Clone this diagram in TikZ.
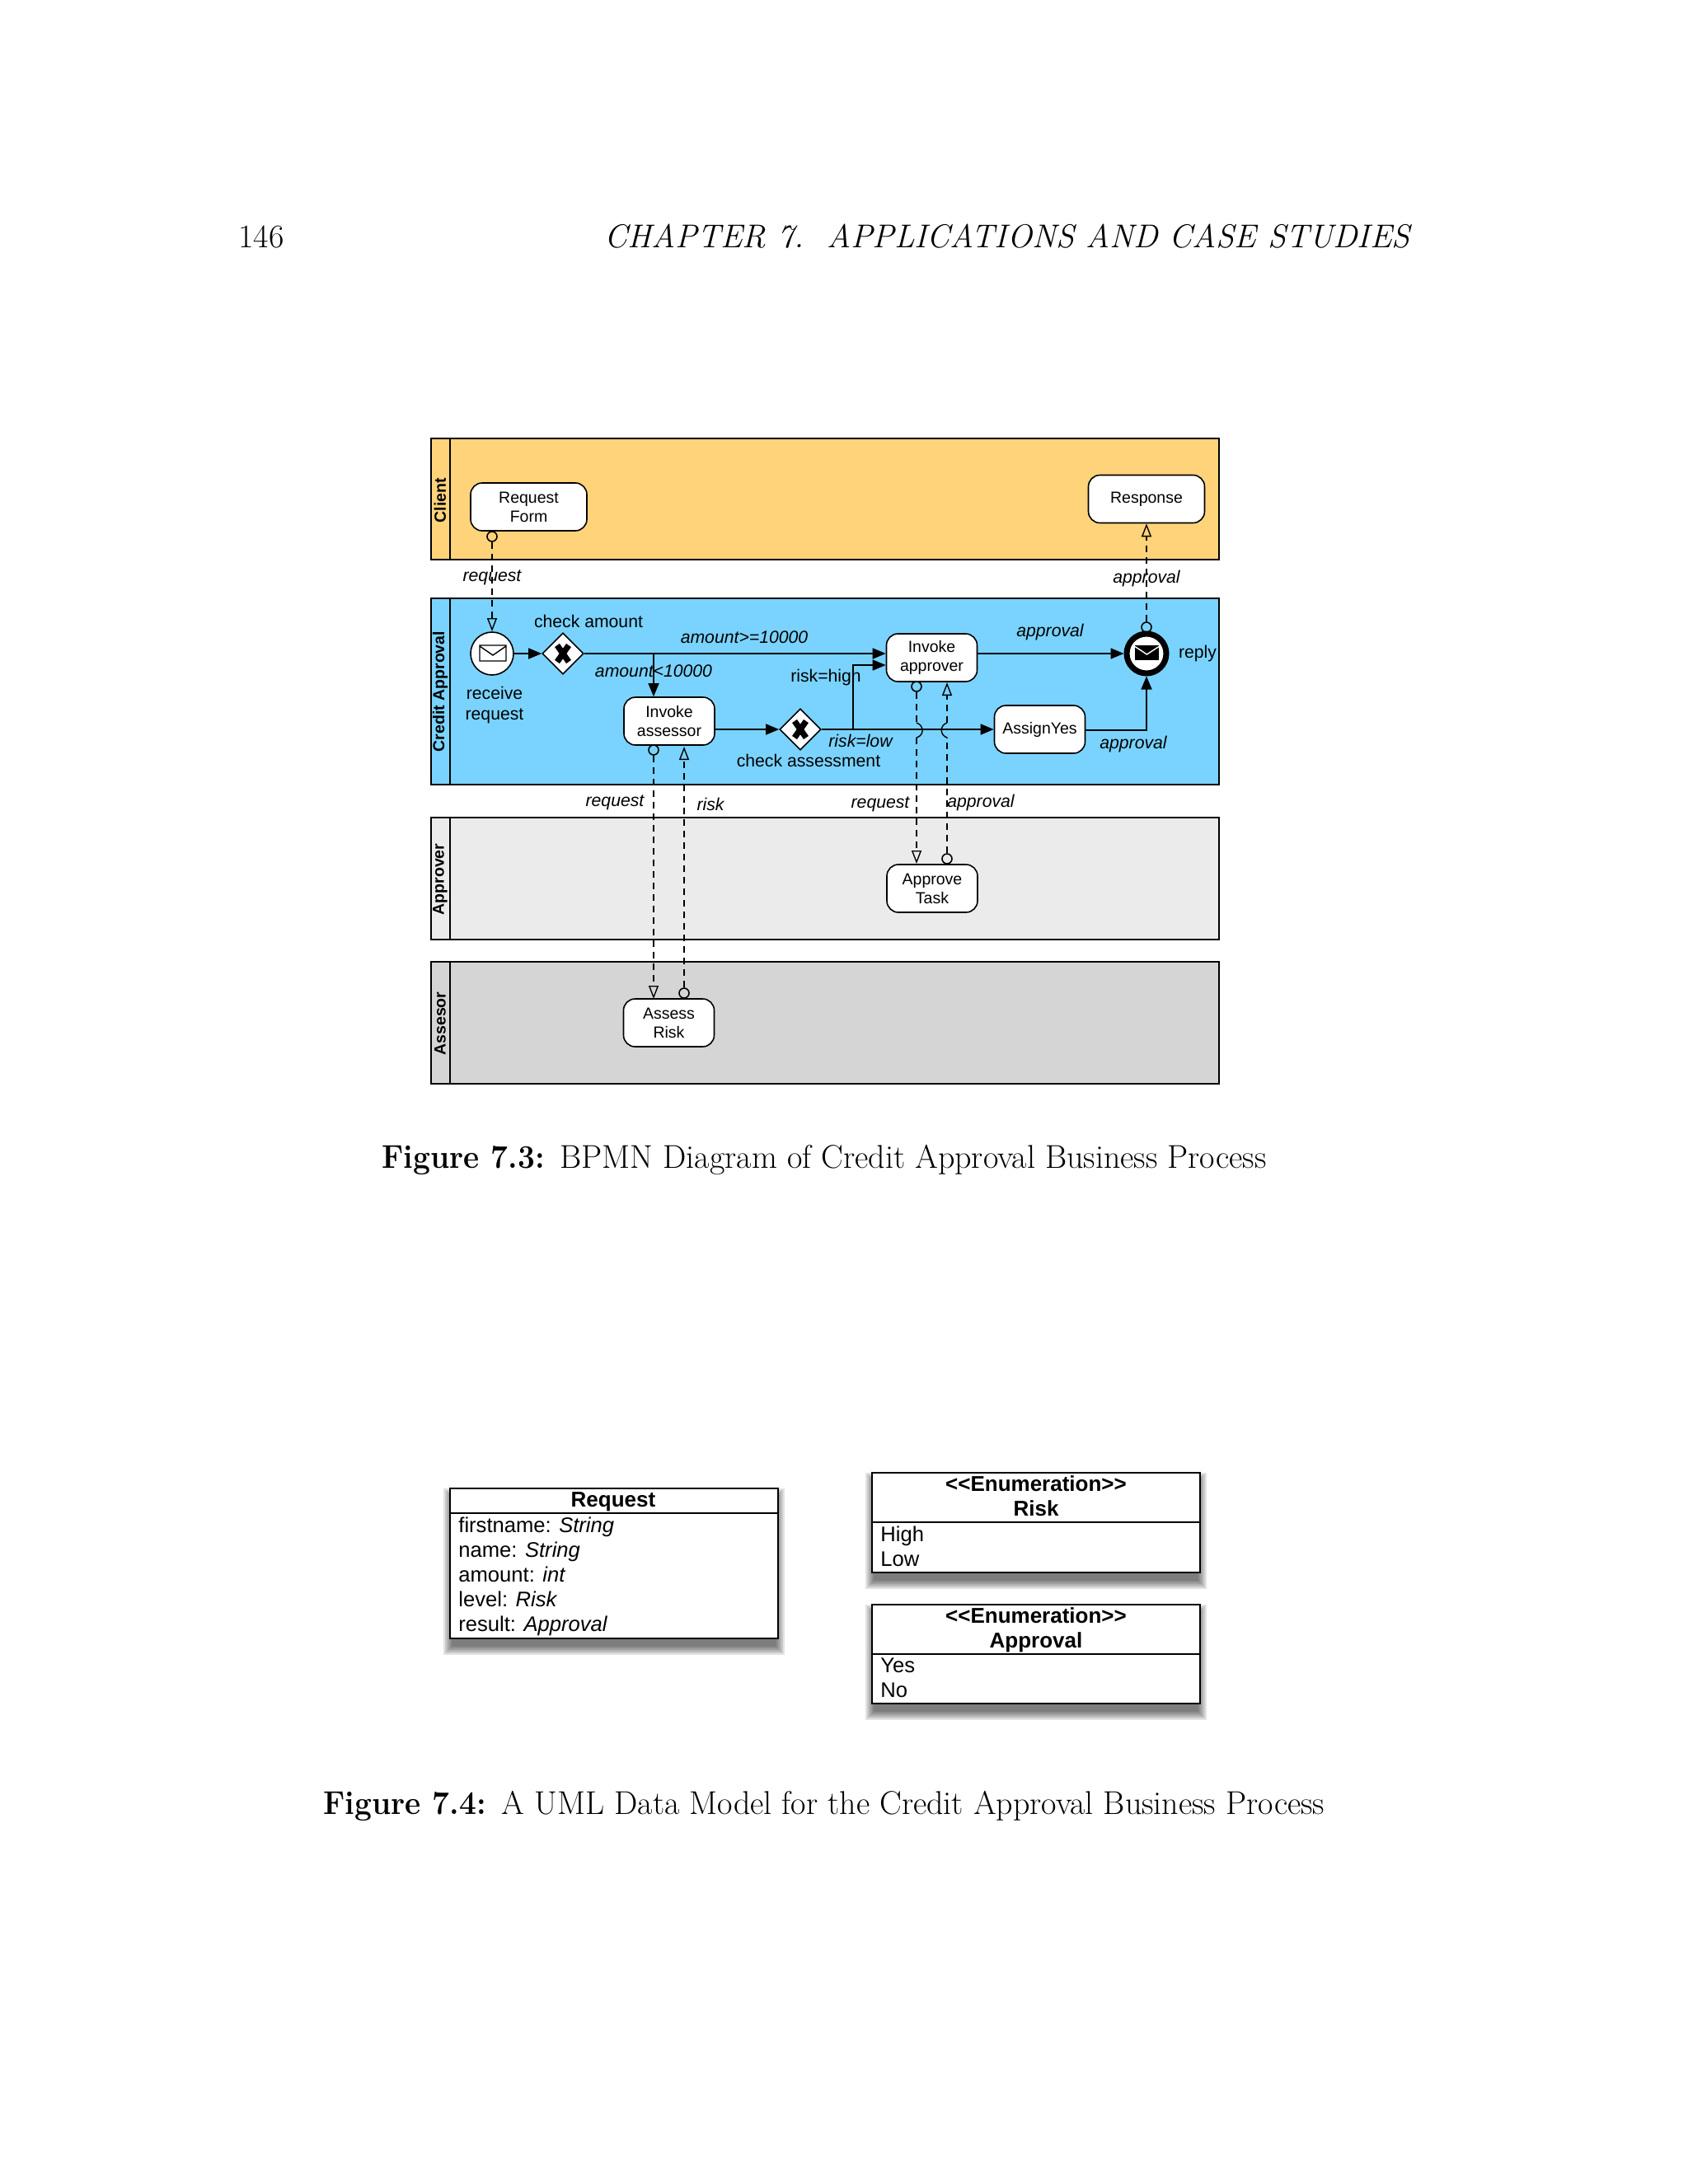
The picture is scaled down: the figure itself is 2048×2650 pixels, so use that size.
\documentclass[tikz,border=0pt]{standalone}
\usepackage{fontspec}
\newfontfamily\arial{Liberation Sans}
\usetikzlibrary{arrows.meta,shapes.geometric}
\definecolor{lanea}{HTML}{FFD37A}
\definecolor{laneb}{HTML}{7AD3FF}
\definecolor{lanec}{HTML}{EBEBEB}
\definecolor{laned}{HTML}{D5D5D5}
\tikzset{
  x=0.5pt,y=-0.5pt,
  lanebox/.style={draw=black,line width=1pt},
  lanetitle/.style={font=\arial\bfseries\fontsize{9.75}{11}\selectfont,rotate=90,inner sep=0pt},
  task/.style={draw=black,fill=white,line width=.8pt,rounded corners=7pt,align=center,inner sep=0pt,
    font=\arial\fontsize{9.75}{11.6}\selectfont,minimum width=55pt,minimum height=29pt},
  gateway/.style={diamond,draw=black,fill=white,line width=.8pt,minimum width=25pt,minimum height=25pt,inner sep=0pt,aspect=1},
  event/.style={circle,draw=black,fill=white,line width=.8pt,minimum size=26pt,inner sep=0pt},
  endevent/.style={circle,draw=black,fill=white,line width=3.5pt,minimum size=24pt,inner sep=0pt},
  msgstart/.style={circle,draw=black,line width=.8pt,minimum size=6pt,inner sep=0pt},
  seq/.style={draw=black,line width=.8pt,-{Triangle[length=8pt,width=6.5pt]}},
  msgplain/.style={draw=black,line width=.7pt,dash pattern=on 4pt off 3pt},
  jumparc/.style={draw=black,line width=.7pt},
  msg/.style={msgplain,-{Triangle[open,length=8pt,width=6pt]}},
  lab/.style={font=\arial\fontsize{10.6}{12.5}\selectfont,inner sep=0pt,align=center},
  ilab/.style={font=\arial\itshape\fontsize{10.6}{12}\selectfont,inner sep=0pt},
  umlbox/.style={draw=black,fill=white,line width=1pt},
  umlline/.style={draw=black,line width=1pt},
  umltitle/.style={font=\arial\bfseries\fontsize{13}{15}\selectfont,inner sep=0pt,anchor=base},
  umlrow/.style={font=\arial\fontsize{12.8}{15}\selectfont,inner sep=0pt,anchor=base west},
  pagetext/.style={font=\fontsize{20}{24}\selectfont,inner sep=0pt},
}
\newcommand{\umlshadow}[4]{%
  \foreach \d in {0,2,...,10}{
    \fill[black,opacity=.11] (#1+2-\d,#2+10-\d) rectangle (#3-2+\d,#4+10+\d);
  }}
\newcommand{\capbold}[1]{\scalebox{.93}[1]{\textbf{#1}}\hspace{9.3pt}}
\begin{document}
\begin{tikzpicture}
\useasboundingbox (0,0) rectangle (2048,2650);
\fill[white] (0,0) rectangle (2048,2650);

% page text
\node[pagetext,anchor=base west] (pagenum) at (289,300) {146};
\node[pagetext,anchor=base] (runhead) at (1222,300) {\itshape CHAPTER 7.\ \ APPLICATIONS AND CASE STUDIES};
\node[pagetext,anchor=base] (cap1) at (1000,1417) {\capbold{Figure 7.3:}BPMN Diagram of Credit Approval Business Process};
\node[pagetext,anchor=base] (cap2) at (1000,2201) {\capbold{Figure 7.4:}A UML Data Model for the Credit Approval Business Process};

% lanes
\filldraw[lanebox,fill=lanea] (523,532) rectangle (1479,679);
\filldraw[lanebox,fill=laneb] (523,726) rectangle (1479,952);
\filldraw[lanebox,fill=lanec] (523,992) rectangle (1479,1140);
\filldraw[lanebox,fill=laned] (523,1167) rectangle (1479,1315);
\draw[lanebox] (546,532) -- (546,679) (546,726) -- (546,952) (546,992) -- (546,1140) (546,1167) -- (546,1315);
\node[lanetitle] (tclient) at (534,607) {Client};
\node[lanetitle] (tcredit) at (534,839) {Credit Approval};
\node[lanetitle] (tapprover) at (534,1067) {Approver};
\node[lanetitle] (tassessor) at (534,1242) {Assesor};

% nodes
\node[task,minimum width=70.5pt] (reqform) at (641.5,615) {Request\\Form};
\node[task,minimum width=70.5pt] (response) at (1391,605.5) {Response};
\node[event] (startev) at (597,793) {};
\node[gateway] (gw1) at (683,793) {};
\node[task] (invassessor) at (812,875) {Invoke\\assessor};
\node[gateway] (gw2) at (971,885) {};
\node[task] (invapprover) at (1130.5,798) {Invoke\\approver};
\node[task] (assignyes) at (1261.5,885) {AssignYes};
\node[endevent] (endev) at (1391,793) {};
\node[task] (approvetask) at (1131,1078) {Approve\\Task};
\node[task] (assessrisk) at (811.5,1241) {Assess\\Risk};

% gateway marks
\foreach \g in {gw1,gw2}{
  \draw[line width=3.6pt,black] ([shift={(-7,-10)}]\g.center) -- ([shift={(7,10)}]\g.center);
  \draw[line width=3.6pt,black] ([shift={(7,-10)}]\g.center) -- ([shift={(-7,10)}]\g.center);
}
% envelopes
\draw[line width=.7pt,black] (582,783) rectangle (614,802) (582,784) -- (598,795) -- (614,784);
\fill[black] (1377,783) rectangle (1406,801);
\draw[line width=.7pt,white] (1377,784.5) -- (1391.5,794) -- (1406,784.5);

% message start circles
\node[msgstart] (ms1) at (597,651) {};
\node[msgstart] (ms2) at (1391,761) {};
\node[msgstart] (ms3) at (793,910) {};
\node[msgstart] (ms4) at (830,1205) {};
\node[msgstart] (ms5) at (1112,833) {};
\node[msgstart] (ms6) at (1149,1042) {};

\coordinate (jumpa) at (1112,877);
\coordinate (jumpb) at (1112,895);
\coordinate (jumpc) at (1149,877);
\coordinate (jumpd) at (1149,895);
\coordinate (branchone) at (793,793);
\coordinate (branchtwo) at (1035,885.5);
\coordinate (endbend) at (1391,886);

% sequence flows
\draw[seq] (startev.east) -- (gw1.west);
\draw[seq] (gw1.east) -- (invapprover.west |- gw1.east);
\draw[seq] (branchone) -- (branchone |- invassessor.north);
\draw[seq] (invassessor.east |- gw2.west) -- (gw2.west);
\draw[seq] (gw2.east) -- (assignyes.west |- gw2.east);
\draw[seq] (branchtwo) -- (1035,807) -- (invapprover.west |- 1035,807);
\draw[seq] (invapprover.east |- endev.west) -- (endev.west);
\draw[seq] (assignyes.east |- endbend) -- (endbend) -- (endev.south);

% message flows
\draw[msg] (ms1.south) -- (597,766);
\draw[msg] (ms2.north) -- (response.south);
\draw[msg] (ms3.south) -- (793,1212);
\draw[msg] (ms4.north) -- (830,906);
\draw[msgplain] (ms5.south) -- (jumpa);
\draw[jumparc] (jumpa) .. controls (1121,880) and (1122,892) .. (jumpb);
\draw[msg] (jumpb) -- (1112,1048);
\draw[msgplain] (ms6.north) -- (jumpd);
\draw[jumparc] (jumpd) .. controls (1140,892) and (1140,880) .. (jumpc);
\draw[msg] (jumpc) -- (1149,828);

% labels
\node[lab] (l1) at (714,754) {check amount};
\node[ilab] (l2) at (903,773) {amount>=10000};
\node[ilab] (l3) at (793,814) {amount<10000};
\node[lab] (l4) at (600,855.5) {receive\\request};
\node[lab] (l5) at (1002,822) {risk=high};
\node[lab] (l6) at (981,923) {check assessment};
\node[ilab] (l7) at (1044,899) {risk=low};
\node[ilab] (l8) at (597,701) {request};
\node[ilab] (l9) at (1391,702) {approval};
\node[ilab] (l10) at (1274,767) {approval};
\node[lab] (l11) at (1453,793) {reply};
\node[ilab] (l12) at (1375,903) {approval};
\node[ilab] (l13) at (746,974) {request};
\node[ilab] (l14) at (862,976) {risk};
\node[ilab] (l15) at (1068,976) {request};
\node[ilab] (l16) at (1190,974) {approval};

% UML
\umlshadow{546}{1806}{944}{1988}
\umlshadow{1058}{1787}{1456}{1908}
\umlshadow{1058}{1947}{1456}{2067}
\draw[umlbox] (546,1806) rectangle (944,1988);
\draw[umlline] (546,1836) -- (944,1836);
\draw[umlbox] (1058,1787) rectangle (1456,1908);
\draw[umlline] (1058,1847) -- (1456,1847);
\draw[umlbox] (1058,1947) rectangle (1456,2067);
\draw[umlline] (1058,2007) -- (1456,2007);
\node[umltitle] (u1) at (744,1828) {Request};
\node[umlrow] (u2) at (556,1859) {firstname: \textit{String}};
\node[umlrow] (u3) at (556,1889) {name: \textit{String}};
\node[umlrow] (u4) at (556,1919) {amount: \textit{int}};
\node[umlrow] (u5) at (556,1949) {level: \textit{Risk}};
\node[umlrow] (u6) at (556,1979) {result: \textit{Approval}};
\node[umltitle] (u7) at (1257,1809) {<{}<Enumeration>{}>};
\node[umltitle] (u8) at (1257,1839) {Risk};
\node[umlrow] (u9) at (1068,1870) {High};
\node[umlrow] (u10) at (1068,1900) {Low};
\node[umltitle] (u11) at (1257,1969) {<{}<Enumeration>{}>};
\node[umltitle] (u12) at (1257,1999) {Approval};
\node[umlrow] (u13) at (1068,2029) {Yes};
\node[umlrow] (u14) at (1068,2059) {No};
\end{tikzpicture}
\end{document}
